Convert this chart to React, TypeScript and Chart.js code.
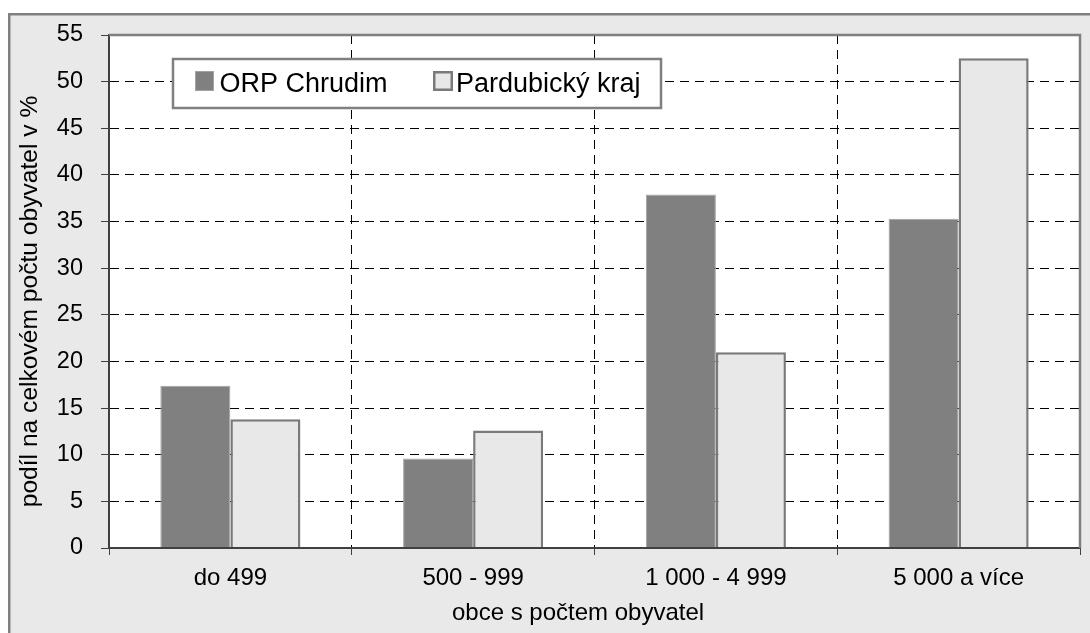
import React, { useEffect, useRef } from "react";
import { Chart, registerables } from "chart.js";

Chart.register(...registerables);

const categories = ["do 499", "500 - 999", "1 000 - 4 999", "5 000 a více"];
const orpChrudim = [17.4, 9.6, 37.9, 35.3];
const pardubickyKraj = [13.8, 12.6, 21.0, 52.5];
const seriesLabels = ["ORP Chrudim", "Pardubický kraj"];
const yMin = 0;
const yMax = 55;
const yStep = 5;
const xAxisTitle = "obce s počtem obyvatel";
const yAxisTitle = "podíl na celkovém počtu obyvatel v %";

const FONT = '"Liberation Sans", Arial, sans-serif';

const framePlugin = {
  id: "frame",
  beforeDraw(chart: any) {
    const { ctx, chartArea: a, width, height } = chart;
    ctx.save();
    ctx.fillStyle = "#808080";
    ctx.fillRect(8, 13, width, height);
    ctx.fillStyle = "#e9e9e9";
    ctx.fillRect(10.5, 15.5, width, height);
    ctx.fillStyle = "#ffffff";
    ctx.fillRect(a.left, a.top, a.right - a.left, a.bottom - a.top);
    ctx.restore();
  },
  afterDraw(chart: any) {
    const { ctx, chartArea: a } = chart;
    ctx.save();
    // plot area top & right border
    ctx.strokeStyle = "#808080";
    ctx.lineWidth = 2.5;
    ctx.beginPath();
    ctx.moveTo(a.left, a.top);
    ctx.lineTo(a.right, a.top);
    ctx.lineTo(a.right, a.bottom);
    ctx.stroke();

    // axis titles
    ctx.fillStyle = "#000";
    ctx.font = `24px ${FONT}`;
    ctx.textAlign = "center";
    ctx.textBaseline = "middle";
    ctx.fillText(xAxisTitle, 578, 613.5);
    ctx.save();
    ctx.font = `24.6px ${FONT}`;
    ctx.translate(30, 301.5);
    ctx.rotate(-Math.PI / 2);
    ctx.fillText(yAxisTitle, 0, 0);
    ctx.restore();

    // legend
    const ds = chart.data.datasets;
    ctx.fillStyle = "#ffffff";
    ctx.fillRect(173, 59, 488, 49);
    ctx.strokeStyle = "#808080";
    ctx.lineWidth = 2.5;
    ctx.strokeRect(173, 59, 488, 49);

    // item 1
    ctx.fillStyle = ds[0].backgroundColor;
    ctx.fillRect(195, 71, 19, 20);
    ctx.strokeStyle = ds[0].borderColor;
    ctx.lineWidth = 1;
    ctx.strokeRect(195.5, 71.5, 18, 19);
    // item 2
    ctx.fillStyle = ds[1].backgroundColor;
    ctx.fillRect(433, 71, 20, 20);
    ctx.strokeStyle = ds[1].borderColor;
    ctx.lineWidth = 2.5;
    ctx.strokeRect(434.25, 72.25, 17.5, 17.5);

    ctx.fillStyle = "#000";
    ctx.font = `27px ${FONT}`;
    ctx.textAlign = "left";
    ctx.textBaseline = "alphabetic";
    ctx.fillText(ds[0].label, 219.5, 91.5);
    ctx.fillText(ds[1].label, 456, 91.5);
    ctx.restore();
  },
};

export default function App() {
  const ref = useRef<HTMLCanvasElement | null>(null);

  useEffect(() => {
    if (!ref.current) return;
    const chart = new Chart(ref.current, {
      type: "bar",
      data: {
        labels: categories,
        datasets: [
          {
            label: seriesLabels[0],
            data: orpChrudim,
            backgroundColor: "#808080",
            borderColor: "#a2a2a2",
            borderWidth: 1,
            categoryPercentage: 0.577,
            barPercentage: 1.0,
          },
          {
            label: seriesLabels[1],
            data: pardubickyKraj,
            backgroundColor: "#e8e8e8",
            borderColor: "#7a7a7a",
            borderWidth: 2.5,
            categoryPercentage: 0.577,
            barPercentage: 1.0,
          },
        ],
      },
      options: {
        animation: false,
        responsive: false,
        devicePixelRatio: 1,
        layout: { padding: { left: 0, top: 35, right: 10, bottom: 0 } },
        plugins: {
          legend: { display: false },
          tooltip: { enabled: false },
          title: { display: false },
        },
        scales: {
          x: {
            type: "category",
            grid: {
              color: "#000",
              lineWidth: 1,
              offset: true,
              drawTicks: true,
              tickLength: 7,
              tickColor: "#404040",
              tickWidth: 1,
            },
            border: { display: true, color: "#404040", width: 2, dash: [9, 6], z: 1 },
            ticks: {
              color: "#000",
              font: { family: FONT, size: 24 },
              padding: 9,
              maxRotation: 0,
              autoSkip: false,
            },
            afterFit(scale: any) {
              scale.height = 85;
            },
          },
          y: {
            min: yMin,
            max: yMax,
            grid: {
              color: "#000",
              lineWidth: 1,
              drawTicks: true,
              tickLength: 8,
              tickColor: "#404040",
              tickWidth: 1,
            },
            border: { display: true, color: "#404040", width: 2, dash: [9, 6], z: 1 },
            ticks: {
              stepSize: yStep,
              color: "#000",
              font: { family: FONT, size: 23.5 },
              padding: 18,
            },
            afterFit(scale: any) {
              scale.width = 109;
            },
          },
        },
      },
      plugins: [framePlugin],
    } as any);
    return () => chart.destroy();
  }, []);

  return (
    <div style={{ position: "fixed", left: 0, top: 0, width: 1090, height: 633 }}>
      <canvas ref={ref} width={1090} height={633} style={{ display: "block" }} />
    </div>
  );
}
